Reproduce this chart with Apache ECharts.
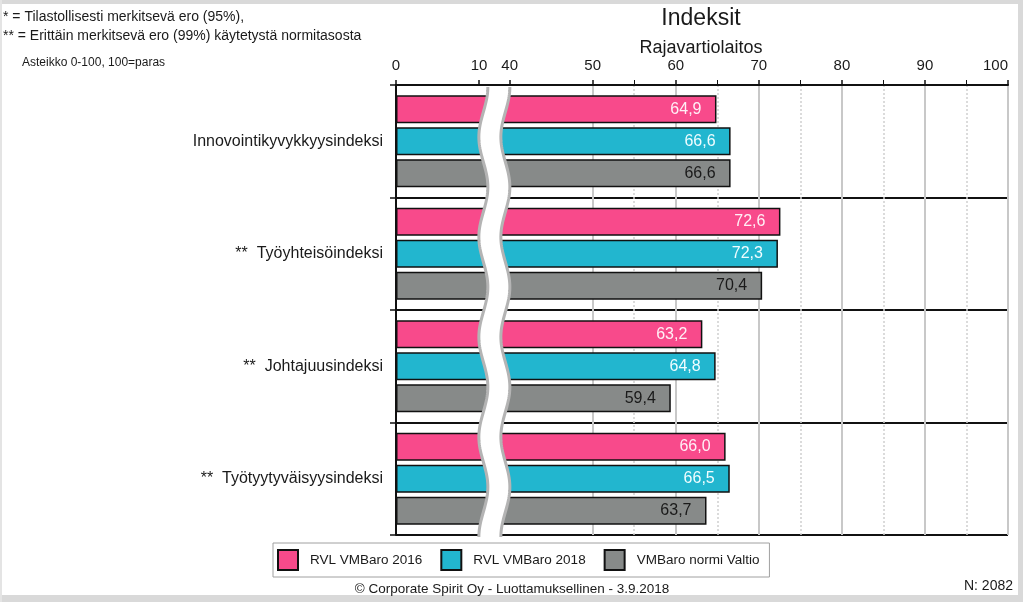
<!DOCTYPE html>
<html>
<head>
<meta charset="utf-8">
<script src="https://cdn.jsdelivr.net/npm/echarts@6/dist/echarts.min.js"></script>
<style>
html,body{margin:0;padding:0;background:#fff;}
#chart{width:1023px;height:602px;}
</style>
</head>
<body>
<div id="chart"></div>
<script>
const categories = ['Innovointikyvykkyysindeksi', '**  Työyhteisöindeksi', '**  Johtajuusindeksi', '**  Työtyytyväisyysindeksi'];
const seriesNames = ['RVL VMBaro 2016', 'RVL VMBaro 2018', 'VMBaro normi Valtio'];
const rvl2016 = [64.9, 72.6, 63.2, 66.0];
const rvl2018 = [66.6, 72.3, 64.8, 66.5];
const normiValtio = [66.6, 70.4, 59.4, 63.7];
const axisMin = 0, axisMax = 100, axisStep = 10;
const breakStart = 10, breakEnd = 40;

const FONT = '"Liberation Sans", Arial, sans-serif';
const colors = ['#f84a8b', '#22b6cf', '#878a89'];
const labelColors = ['#fff0f6', '#f0fdff', '#1a1a1a'];
const seriesData = [rvl2016, rvl2018, normiValtio];
const GRID = {left: 396, right: 15, top: 85, bottom: 67};

const chart = echarts.init(document.getElementById('chart'), null, {renderer: 'canvas'});

const fmt = v => v.toFixed(1).replace('.', ',');

const series = seriesNames.map((name, i) => ({
  name: name,
  type: 'bar',
  data: seriesData[i],
  barWidth: 28,
  barGap: '14%',
  itemStyle: {color: colors[i], borderColor: '#111', borderWidth: 1.5},
  label: {
    show: true,
    position: 'insideRight',
    distance: 15,
    formatter: p => fmt(p.value),
    color: labelColors[i],
    fontFamily: FONT,
    fontSize: 16
  },
  emphasis: {disabled: true}
}));

const staticGraphics = [
  {type: 'rect', shape: {x: 0, y: 0, width: 1023, height: 4}, style: {fill: '#d9d9d9'}, silent: true},
  {type: 'rect', shape: {x: 0, y: 595, width: 1023, height: 7}, style: {fill: '#d9d9d9'}, silent: true},
  {type: 'rect', shape: {x: 1018, y: 0, width: 5, height: 602}, style: {fill: '#d9d9d9'}, silent: true},
  {type: 'rect', shape: {x: 0, y: 0, width: 2, height: 602}, style: {fill: '#e4e4e4'}, silent: true},
  {type: 'text', x: 701, y: 19, style: {text: 'Indeksit', font: '23px ' + FONT, fill: '#1a1a1a', textAlign: 'center', textVerticalAlign: 'middle'}},
  {type: 'text', x: 701, y: 48, style: {text: 'Rajavartiolaitos', font: '18px ' + FONT, fill: '#1a1a1a', textAlign: 'center', textVerticalAlign: 'middle'}},
  {type: 'text', x: 3, y: 17, style: {text: '* = Tilastollisesti merkitsevä ero (95%),', font: '14px ' + FONT, fill: '#1a1a1a', textAlign: 'left', textVerticalAlign: 'middle'}},
  {type: 'text', x: 3, y: 36, style: {text: '** = Erittäin merkitsevä ero (99%) käytetystä normitasosta', font: '14px ' + FONT, fill: '#1a1a1a', textAlign: 'left', textVerticalAlign: 'middle'}},
  {type: 'text', x: 22, y: 63, style: {text: 'Asteikko 0-100, 100=paras', font: '12px ' + FONT, fill: '#1a1a1a', textAlign: 'left', textVerticalAlign: 'middle'}},
  {type: 'text', x: 512, y: 589, style: {text: '© Corporate Spirit Oy - Luottamuksellinen - 3.9.2018', font: '13.5px ' + FONT, fill: '#1a1a1a', textAlign: 'center', textVerticalAlign: 'middle'}},
  {type: 'text', x: 1013, y: 586, style: {text: 'N: 2082', font: '14px ' + FONT, fill: '#1a1a1a', textAlign: 'right', textVerticalAlign: 'middle'}}
];

const option = {
  backgroundColor: '#ffffff',
  animation: false,
  textStyle: {fontFamily: FONT},
  grid: Object.assign({containLabel: false}, GRID),
  legend: {
    left: 273, top: 543,
    padding: [6, 10, 6, 4],
    borderColor: '#a0a0a0', borderWidth: 1,
    itemWidth: 20, itemHeight: 20, itemGap: 18,
    icon: 'rect',
    data: seriesNames,
    textStyle: {fontFamily: FONT, fontSize: 13.5, color: '#1a1a1a', padding: [0, 0, 0, 7]},
    selectedMode: false
  },
  xAxis: {
    type: 'value',
    position: 'top',
    min: axisMin, max: axisMax, interval: axisStep,
    breaks: [{start: breakStart, end: breakEnd, gap: '5%'}],
    breakArea: {show: false, expandOnClick: false},
    breakLabelLayout: {moveOverlap: false},
    axisLine: {show: true, lineStyle: {color: '#111', width: 2}},
    axisTick: {show: true, length: 5, lineStyle: {color: '#111', width: 1.5}},
    minorTick: {show: true, splitNumber: 2, length: 5, lineStyle: {color: '#111', width: 1}},
    axisLabel: {fontFamily: FONT, fontSize: 15, color: '#1a1a1a', margin: 12, alignMaxLabel: 'right'},
    splitLine: {show: true, lineStyle: {color: '#c8c8c8', width: 2}},
    minorSplitLine: {show: true, lineStyle: {color: '#cfcfcf', width: 1.5, type: [2, 2]}}
  },
  yAxis: {
    type: 'category',
    inverse: true,
    data: categories,
    axisLine: {show: true, lineStyle: {color: '#111', width: 2}},
    axisTick: {show: true, length: 6, lineStyle: {color: '#111', width: 1.5}},
    axisLabel: {fontFamily: FONT, fontSize: 16, color: '#1a1a1a', margin: 13},
    splitLine: {show: true, lineStyle: {color: '#111', width: 2}}
  },
  series: series,
  graphic: staticGraphics
};
chart.setOption(option);

// wavy break band placed from the axis scale
const x10 = chart.convertToPixel({xAxisIndex: 0}, breakStart);
const x40 = chart.convertToPixel({xAxisIndex: 0}, breakEnd);
const yTop = GRID.top + 2, yBot = 602 - GRID.bottom + 3;
const mid = (x10 + x40) / 2, half = 11, amp = 4.5, period = 100;
const leftPts = [], rightPts = [];
for (let y = yTop; y <= yBot + 0.01; y += 2) {
  const off = amp * Math.sin(2 * Math.PI * (y - yTop) / period + Math.PI / 2);
  leftPts.push([mid - half + off, y]);
  rightPts.push([mid + half + off, y]);
}
const polyPts = leftPts.concat(rightPts.slice().reverse());
chart.setOption({
  graphic: staticGraphics.concat([
    {type: 'polygon', z: 100, shape: {points: polyPts}, style: {fill: '#ffffff', stroke: null}, silent: true},
    {type: 'polyline', z: 101, shape: {points: leftPts}, style: {stroke: '#b4b4b4', lineWidth: 3, fill: null}, silent: true},
    {type: 'polyline', z: 101, shape: {points: rightPts}, style: {stroke: '#b4b4b4', lineWidth: 3, fill: null}, silent: true}
  ])
}, {replaceMerge: ['graphic']});
</script>
</body>
</html>
